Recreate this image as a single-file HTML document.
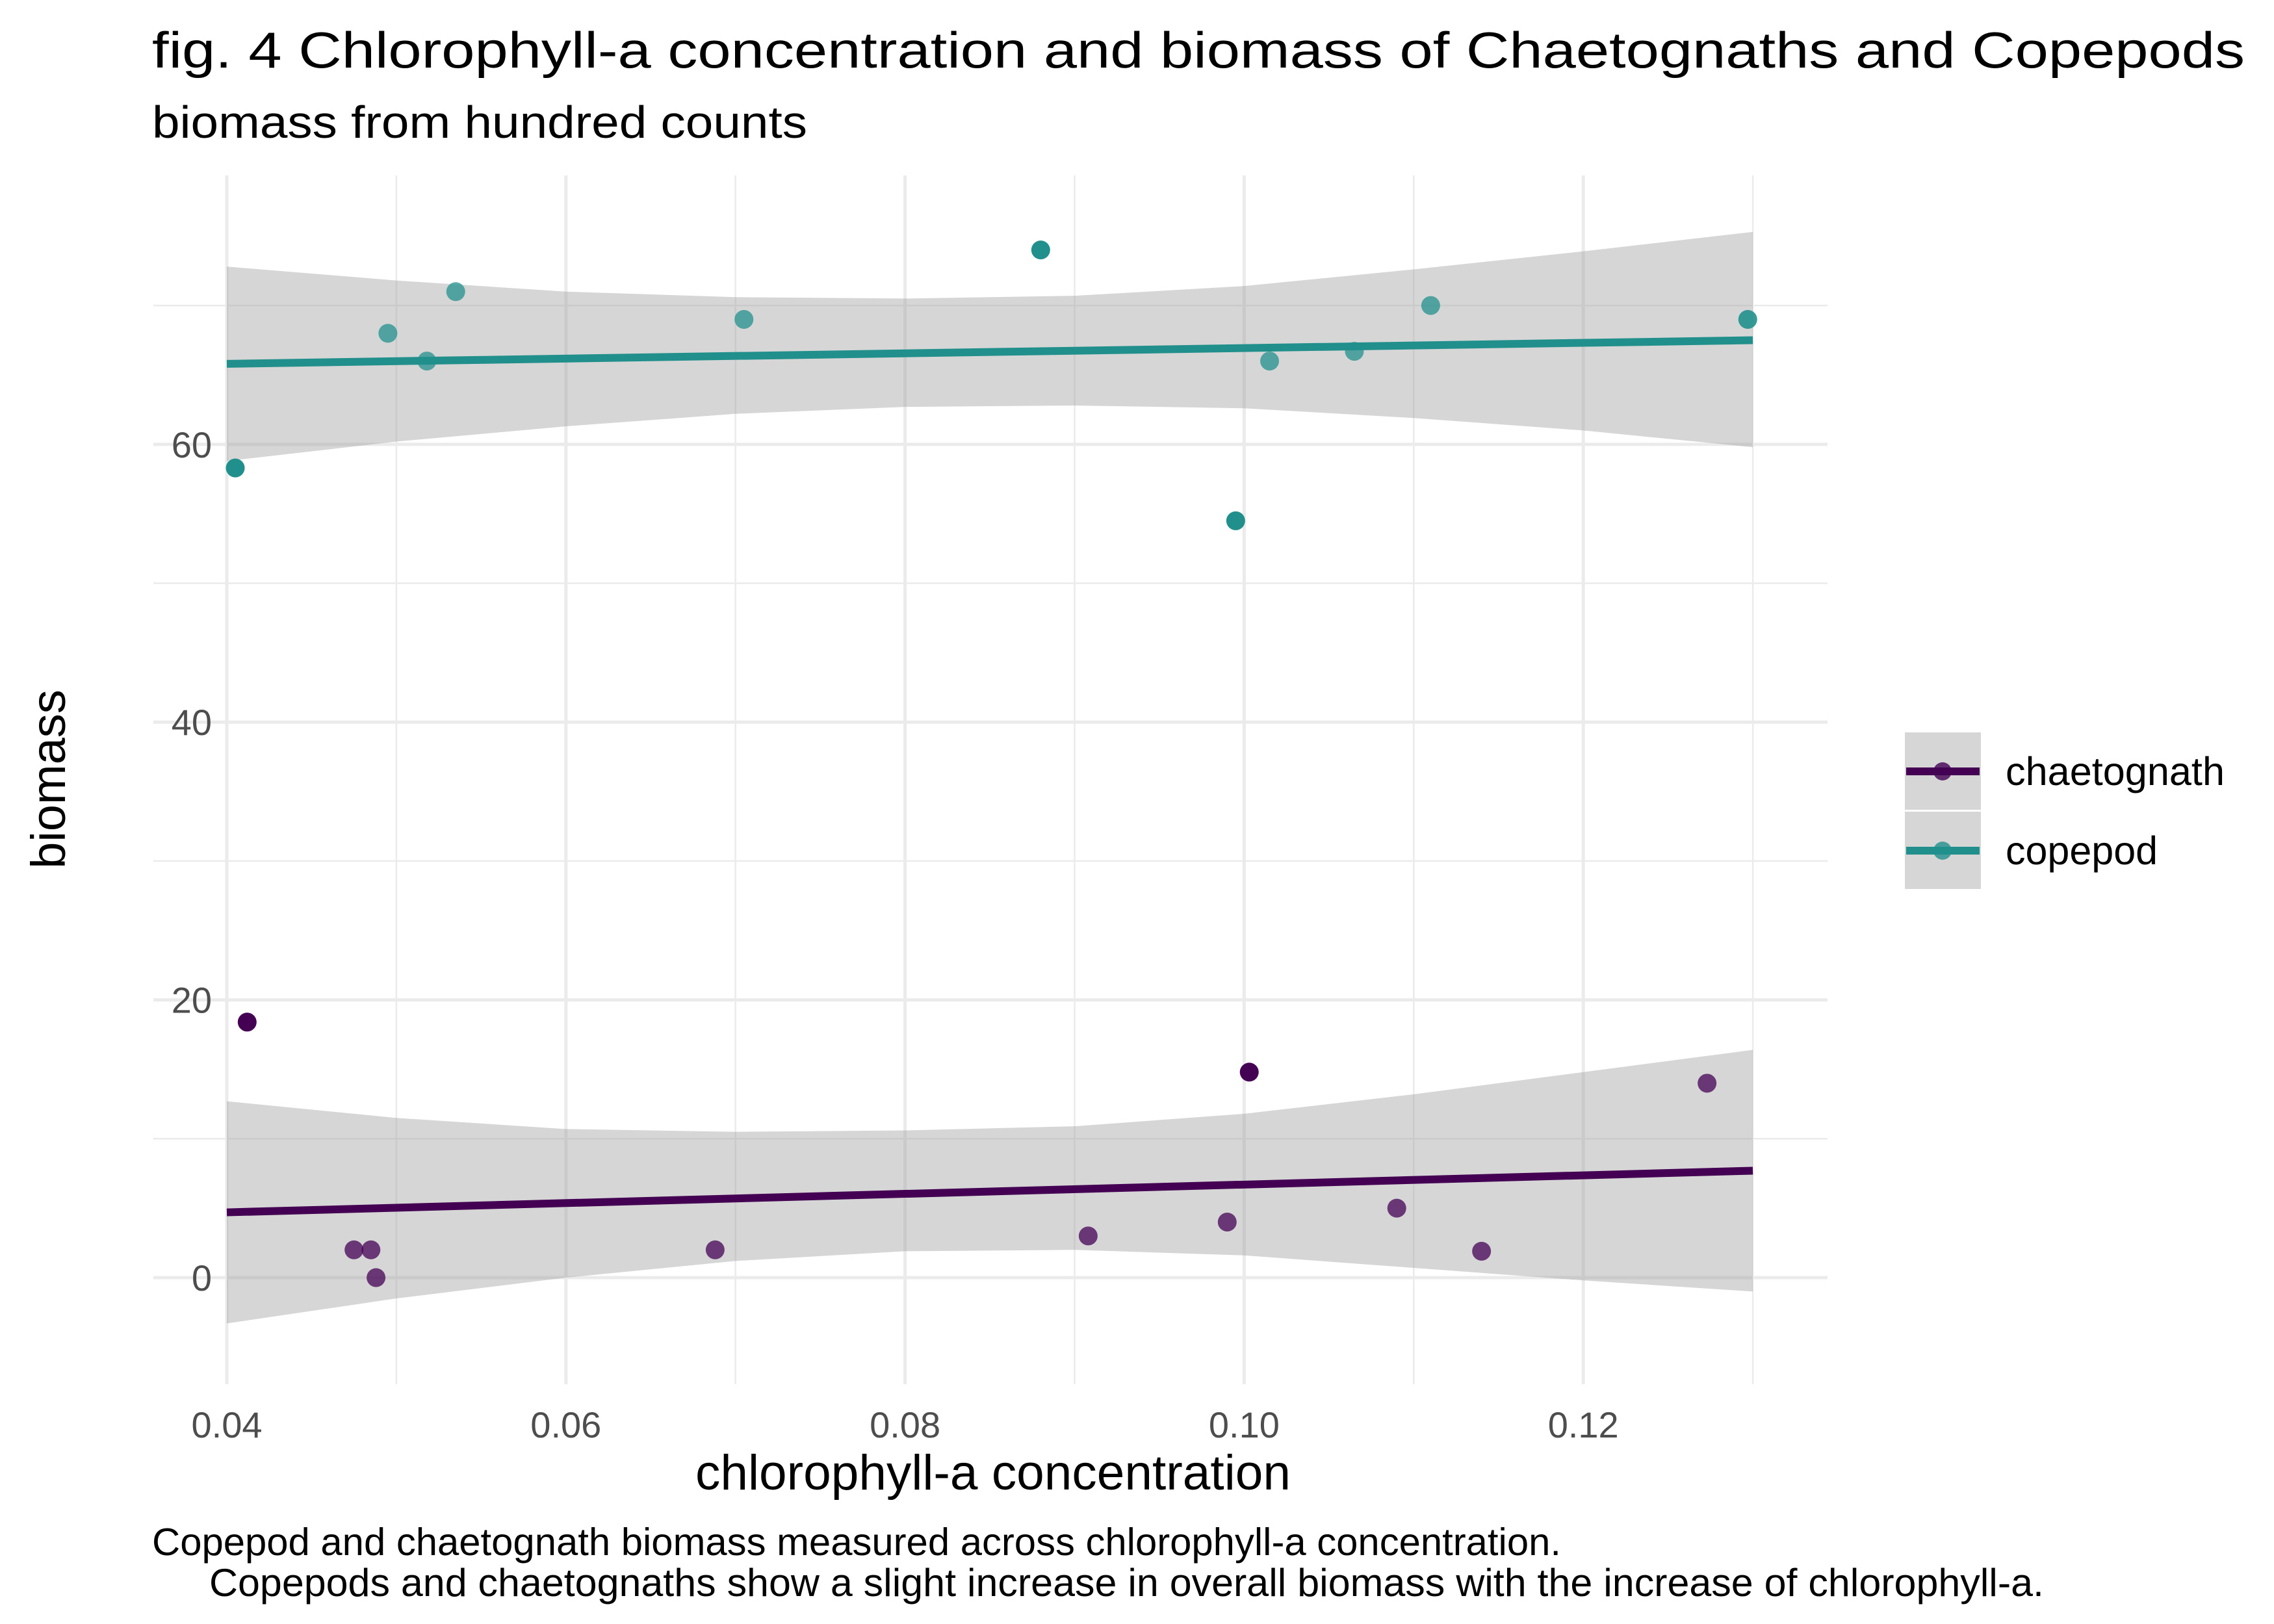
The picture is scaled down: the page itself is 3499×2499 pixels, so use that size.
<!DOCTYPE html>
<html><head><meta charset="utf-8"><style>
html,body{margin:0;padding:0;background:#fff}
svg{display:block}
text{font-family:"Liberation Sans",Arial,sans-serif}
</style></head><body>
<svg id="chart" width="3499" height="2499" viewBox="0 0 3499 2499" xmlns="http://www.w3.org/2000/svg">
<rect width="3499" height="2499" fill="#fff"/>
<text x="234" y="104" font-size="78" fill="#000" textLength="3220" lengthAdjust="spacingAndGlyphs">fig. 4 Chlorophyll-a concentration and biomass of Chaetognaths and Copepods</text>
<text x="234" y="212" font-size="70" fill="#000" textLength="1008" lengthAdjust="spacingAndGlyphs">biomass from hundred counts</text>
<g id="grid"></g>
<g id="bands"></g>
<g id="lines"></g>
<g id="points"></g>
<g id="axes"></g>
<text x="1528" y="2292" font-size="76" text-anchor="middle" fill="#000" textLength="916" lengthAdjust="spacingAndGlyphs">chlorophyll-a concentration</text>
<text transform="translate(100,1199) rotate(-90)" font-size="74" text-anchor="middle" fill="#000">biomass</text>
<g>
<g>
<rect x="2931" y="1127" width="117" height="119" fill="#d6d6d6"/>
<line x1="2933" y1="1187" x2="3046" y2="1187" stroke="#440154" stroke-width="12"/>
<circle cx="2989" cy="1187" r="14" fill="#440154" opacity="0.8"/>
<text x="3086" y="1208" font-size="61" fill="#000" textLength="337" lengthAdjust="spacingAndGlyphs">chaetognath</text>
</g>
<g>
<rect x="2931" y="1249" width="117" height="119" fill="#d6d6d6"/>
<line x1="2933" y1="1309" x2="3046" y2="1309" stroke="#21908c" stroke-width="12"/>
<circle cx="2989" cy="1309" r="14" fill="#21908c" opacity="0.8"/>
<text x="3086" y="1330" font-size="61" fill="#000">copepod</text>
</g>
</g>
<text x="234" y="2393" font-size="59" fill="#000" textLength="2168" lengthAdjust="spacingAndGlyphs">Copepod and chaetognath biomass measured across chlorophyll-a concentration.</text>
<text x="322" y="2456" font-size="60" fill="#000" textLength="2823" lengthAdjust="spacingAndGlyphs">Copepods and chaetognaths show a slight increase in overall biomass with the increase of chlorophyll-a.</text>
</svg>
<script>
const xTicks=[0.04,0.06,0.08,0.10,0.12];
const xTickLabels=["0.04","0.06","0.08","0.10","0.12"];
const yTicks=[0,20,40,60];
const yTickLabels=["0","20","40","60"];
const copX=[0.0405,0.0495,0.0518,0.0535,0.0705,0.088,0.0995,0.1015,0.1065,0.111,0.1297];
const copY=[58.3,68,66,71,69,74,54.5,66,66.7,70,69];
const copAlpha=[1,0.75,0.75,0.75,0.75,1,1,0.75,0.75,0.75,0.9];
const chaX=[0.0412,0.0475,0.0485,0.0488,0.0688,0.0908,0.099,0.1003,0.109,0.114,0.1273];
const chaY=[18.4,2,2,0,2,3,4,14.8,5,1.9,14];
const chaAlpha=[1,0.75,0.75,0.75,0.75,0.75,0.75,1,0.75,0.75,0.75];
const fitX=[0.04,0.13];
const copFit=[65.8,67.5];
const chaFit=[4.7,7.7];
const bandX=[0.04,0.05,0.06,0.07,0.08,0.09,0.10,0.11,0.12,0.13];
const copHi=[72.8,71.8,71.0,70.6,70.5,70.7,71.4,72.6,73.9,75.3];
const copLo=[58.8,60.2,61.3,62.2,62.7,62.8,62.6,61.9,61.0,59.8];
const chaHi=[12.7,11.5,10.7,10.5,10.6,10.9,11.8,13.2,14.8,16.4];
const chaLo=[-3.3,-1.5,0.0,1.2,1.9,2.0,1.6,0.7,-0.2,-1.0];

const NS="http://www.w3.org/2000/svg";
const X=v=>349+(v-0.04)*26090;
const Y=v=>1966-v*21.37;
const L=236,R=2812,T=270,B=2130;
function mk(tag,attrs,parent){const e=document.createElementNS(NS,tag);for(const k in attrs)e.setAttribute(k,attrs[k]);parent.appendChild(e);return e;}
const grid=document.getElementById('grid');
for(let v=0.05;v<0.131;v+=0.02){const l=mk('line',{x1:X(v),x2:X(v),y1:T,y2:B,stroke:'#ebebeb','stroke-width':2.5},grid);

}
for(const v of [10,30,50,70]){const l=mk('line',{x1:L,x2:R,y1:Y(v),y2:Y(v),stroke:'#ebebeb','stroke-width':2.5},grid);

}
xTicks.forEach(v=>{const l=mk('line',{x1:X(v),x2:X(v),y1:T,y2:B,stroke:'#ebebeb','stroke-width':5},grid);

});
yTicks.forEach(v=>{const l=mk('line',{x1:L,x2:R,y1:Y(v),y2:Y(v),stroke:'#ebebeb','stroke-width':5},grid);

});
const axes=document.getElementById('axes');
xTicks.forEach((v,i)=>{const t=mk('text',{x:X(v),y:2212,'font-size':56,'text-anchor':'middle',fill:'#4d4d4d'},axes);t.textContent=xTickLabels[i];

});
yTicks.forEach((v,i)=>{const t=mk('text',{x:326,y:Y(v)+20,'font-size':56,'text-anchor':'end',fill:'#4d4d4d'},axes);t.textContent=yTickLabels[i];

});
function band(hi,lo,name){let d='';bandX.forEach((x,i)=>{d+=(i?'L':'M')+X(x)+' '+Y(hi[i]);});
for(let i=bandX.length-1;i>=0;i--)d+='L'+X(bandX[i])+' '+Y(lo[i]);d+='Z';
const p=mk('path',{d:d,fill:'#999999','fill-opacity':0.4},document.getElementById('bands'));

}
band(copHi,copLo,'copepod-band');band(chaHi,chaLo,'chaetognath-band');
function line(ys,c,name){const l=mk('line',{x1:X(fitX[0]),y1:Y(ys[0]),x2:X(fitX[1]),y2:Y(ys[1]),stroke:c,'stroke-width':12},document.getElementById('lines'));

}
line(copFit,'#21908c','copepod-fit-line');line(chaFit,'#440154','chaetognath-fit-line');
function pts(xs,ys,al,c,name){xs.forEach((x,i)=>{const p=mk('circle',{cx:X(x),cy:Y(ys[i]),r:14.5,fill:c,'fill-opacity':al[i]},document.getElementById('points'));

});}
pts(copX,copY,copAlpha,'#21908c','copepod-point');pts(chaX,chaY,chaAlpha,'#440154','chaetognath-point');
</script>
</body></html>
